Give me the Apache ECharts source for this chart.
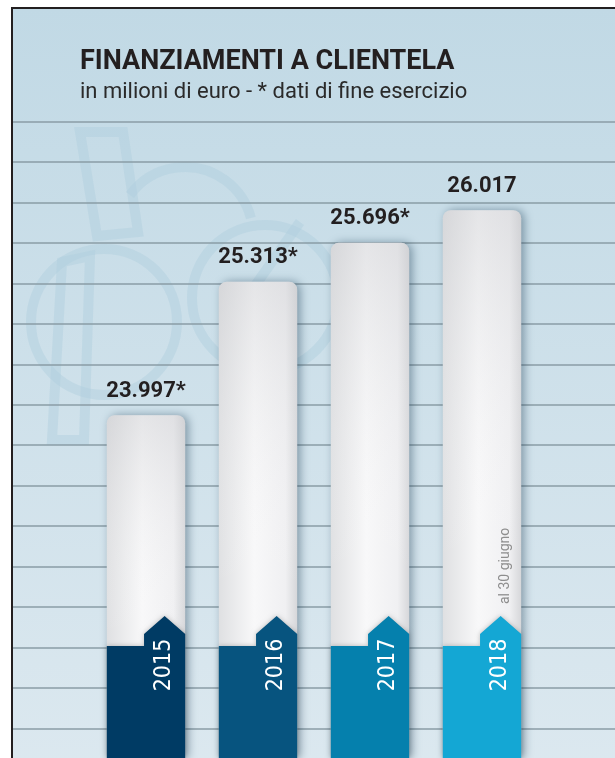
<!DOCTYPE html>
<html>
<head>
<meta charset="utf-8">
<title>Finanziamenti a clientela</title>
<script src="https://cdn.jsdelivr.net/npm/echarts@6/dist/echarts.min.js"></script>
<style>
html,body{margin:0;padding:0;background:#fff;}
#chart{width:615px;height:758px;}
</style>
</head>
<body>
<div id="chart"></div>
<script>
// dati del grafico
var anni = ['2015', '2016', '2017', '2018'];
var valori = [23997, 25313, 25696, 26017];
var fineEsercizio = [true, true, true, false]; // * dati di fine esercizio
var note = ['', '', '', 'al 30 giugno'];
var coloriAnno = ['#003b64', '#07547f', '#0580ad', '#14a7d4'];

var Y_MIN = 20620, Y_MAX = 28010;

function fmt(v) {
  return String(v).replace(/\B(?=(\d{3})+(?!\d))/g, '.');
}

var chart = echarts.init(document.getElementById('chart'));

function disegnaBarra(params, api) {
  var i = api.value(0);
  var top = api.coord([i, api.value(1)]);
  var base = api.coord([i, Y_MIN]);
  var w = api.size([1, 0])[0] * 0.7;
  var x0 = top[0] - w / 2, x1 = top[0] + w / 2;
  var y0 = top[1], y1 = base[1];
  var fascia = y1 - 112;            // inizio fascia colorata
  var tagL = x0 + w * 0.475;
  var punta = (tagL + x1) / 2;
  var forma = { x: x0, y: y0, width: w, height: y1 - y0, r: [8, 8, 0, 0] };
  var figli = [
    {
      type: 'rect', shape: forma,
      style: {
        fill: new echarts.graphic.LinearGradient(0, 0, 1, 0, [
          { offset: 0, color: '#dfe0e2' },
          { offset: 0.45, color: '#f8f8f9' },
          { offset: 0.85, color: '#f0f0f2' },
          { offset: 1, color: '#d6d7da' }
        ]),
        shadowBlur: 10, shadowOffsetX: 3, shadowColor: 'rgba(0,35,60,0.4)'
      }
    },
    {
      type: 'rect', shape: forma,
      style: {
        fill: new echarts.graphic.LinearGradient(0, 0, 0, 1, [
          { offset: 0, color: 'rgba(200,201,205,0.4)' },
          { offset: 0.65, color: 'rgba(255,255,255,0)' }
        ])
      }
    },
    {
      type: 'polygon',
      shape: { points: [[x0, fascia], [tagL, fascia], [tagL, fascia - 12], [punta, fascia - 30],
        [x1, fascia - 12], [x1, y1], [x0, y1]] },
      style: { fill: coloriAnno[i], shadowBlur: 5, shadowColor: 'rgba(0,0,0,0.25)' }
    },
    {
      type: 'text', x: punta - 1, y: fascia + 19, rotation: Math.PI / 2,
      style: {
        text: anni[i], fill: '#ffffff',
        font: '23px "Liberation Sans Narrow", "DejaVu Sans Condensed", Roboto, sans-serif',
        textAlign: 'center', textVerticalAlign: 'middle'
      }
    },
    {
      type: 'text', x: top[0], y: y0 - 13,
      style: {
        text: fmt(valori[i]) + (fineEsercizio[i] ? '*' : ''), fill: '#231f20',
        font: 'bold 22px Roboto, sans-serif',
        textAlign: 'center', textVerticalAlign: 'bottom'
      }
    }
  ];
  if (note[i]) {
    figli.push({
      type: 'text', x: x1 - 16, y: fascia - 42, rotation: Math.PI / 2,
      style: {
        text: note[i], fill: '#8e8e8e', font: '14px Roboto, sans-serif',
        textAlign: 'left', textVerticalAlign: 'middle'
      }
    });
  }
  return { type: 'group', children: figli };
}

// logo in filigrana
var filigrana = { stroke: '#b0cedd', fill: 'none', lineWidth: 10, opacity: 0.45 };

var option = {
  animation: false,
  title: {
    text: 'FINANZIAMENTI A CLIENTELA',
    subtext: 'in milioni di euro - * dati di fine esercizio',
    left: 75,
    top: 44,
    itemGap: 5,
    textStyle: { fontFamily: 'Roboto', fontWeight: 'bold', fontSize: 27, color: '#231f20' },
    subtextStyle: { fontFamily: 'Roboto', fontSize: 22, color: '#2a2a2a' }
  },
  graphic: [
    {
      type: 'rect', z: -100,
      shape: { x: 12, y: 8, width: 640, height: 800 },
      style: {
        fill: new echarts.graphic.LinearGradient(0, 0, 0, 1, [
          { offset: 0, color: '#c1d9e5' },
          { offset: 1, color: '#dde9f0' }
        ]),
        stroke: '#231f20', lineWidth: 2
      }
    },
    { type: 'polygon', z: -90, shape: { points: [[80, 132], [123, 132], [138, 232], [97, 236]] }, style: filigrana },
    { type: 'arc', z: -90, shape: { cx: 185, cy: 235, r: 68, startAngle: Math.PI * 1.2, endAngle: Math.PI * 1.92 }, style: filigrana },
    { type: 'circle', z: -90, shape: { cx: 104, cy: 322, r: 73 }, style: filigrana },
    { type: 'polygon', z: -90, shape: { points: [[62, 262], [90, 256], [84, 440], [52, 440]] }, style: filigrana },
    { type: 'circle', z: -90, shape: { cx: 265, cy: 298, r: 73 }, style: filigrana },
    { type: 'line', z: -90, shape: { x1: 300, y1: 222, x2: 252, y2: 290 }, style: filigrana }
  ],
  grid: [
    { left: 90, width: 448, top: 8, bottom: 0 },
    { left: 13, right: 0, top: 121.5, bottom: 29.5 }
  ],
  xAxis: [
    { type: 'category', data: anni, show: false, gridIndex: 0 },
    { type: 'value', show: false, gridIndex: 1 }
  ],
  yAxis: [
    { type: 'value', min: Y_MIN, max: Y_MAX, show: false, gridIndex: 0 },
    {
      type: 'value', min: 0, max: 15, interval: 1, gridIndex: 1,
      axisLine: { show: false }, axisTick: { show: false }, axisLabel: { show: false },
      splitLine: { show: true, lineStyle: { color: '#8a9ca6', width: 1.5 } }
    }
  ],
  series: [
    {
      type: 'custom',
      xAxisIndex: 0, yAxisIndex: 0,
      renderItem: disegnaBarra,
      encode: { x: 0, y: 1 },
      clip: false,
      data: valori.map(function (v, i) { return [i, v]; })
    }
  ]
};

chart.setOption(option);
</script>
</body>
</html>
